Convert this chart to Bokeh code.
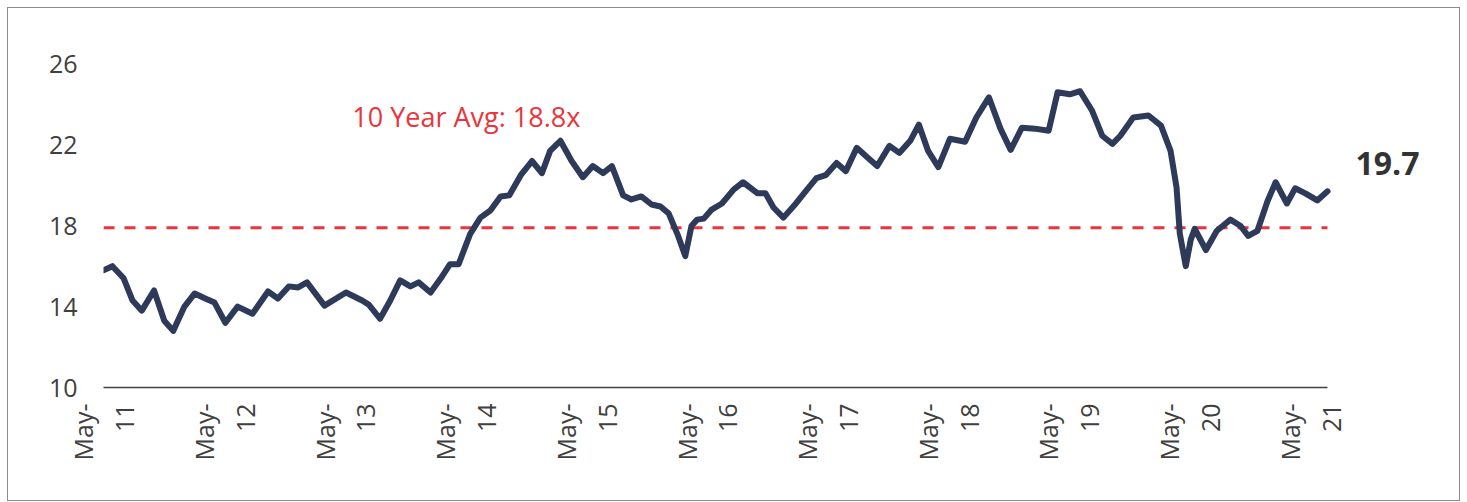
import math
import pandas as pd
from bokeh.plotting import figure
from bokeh.models import Range1d, FixedTicker, Label, ColumnDataSource
from bokeh.embed import file_html
from bokeh.resources import INLINE

# ---- data ----
dates = [
    "2011-05-01", "2011-05-28", "2011-07-01", "2011-07-28", "2011-08-25", "2011-10-01",
    "2011-11-01", "2011-11-28", "2012-01-01", "2012-02-01", "2012-03-04", "2012-04-01",
    "2012-05-04", "2012-06-10", "2012-07-25", "2012-09-10", "2012-10-10", "2012-11-12",
    "2012-12-10", "2013-01-06", "2013-02-28", "2013-05-04", "2013-06-22", "2013-07-12",
    "2013-08-15", "2013-09-15", "2013-10-15", "2013-11-15", "2013-12-10", "2014-01-15",
    "2014-02-15", "2014-03-15", "2014-04-10", "2014-05-15", "2014-06-15", "2014-07-15",
    "2014-08-15", "2014-09-10", "2014-10-15", "2014-11-18", "2014-12-18", "2015-01-12",
    "2015-02-12", "2015-03-18", "2015-04-21", "2015-05-21", "2015-06-21", "2015-07-18",
    "2015-08-21", "2015-09-15", "2015-10-15", "2015-11-15", "2015-12-12", "2016-01-06",
    "2016-02-01", "2016-02-25", "2016-03-15", "2016-04-01", "2016-04-21", "2016-05-15",
    "2016-06-15", "2016-07-21", "2016-08-18", "2016-10-01", "2016-10-25", "2016-11-18",
    "2016-12-18", "2017-01-25", "2017-02-28", "2017-03-28", "2017-04-25", "2017-05-28",
    "2017-06-25", "2017-07-28", "2017-08-28", "2017-09-28", "2017-11-04", "2017-12-04",
    "2018-01-06", "2018-02-01", "2018-03-01", "2018-04-01", "2018-05-06", "2018-06-21",
    "2018-07-25", "2018-09-01", "2018-10-06", "2018-11-06", "2018-12-10", "2019-01-18",
    "2019-03-01", "2019-03-28", "2019-05-04", "2019-06-04", "2019-07-10", "2019-08-10",
    "2019-09-10", "2019-10-04", "2019-11-12", "2019-12-28", "2020-02-04", "2020-03-04",
    "2020-03-22", "2020-04-01", "2020-04-19", "2020-05-04", "2020-05-16", "2020-06-19",
    "2020-07-22", "2020-09-01", "2020-10-01", "2020-10-25", "2020-11-22", "2020-12-22",
    "2021-01-16", "2021-02-19", "2021-03-16", "2021-04-16", "2021-05-22", "2021-06-22",
]
pe_ratio = [
    15.8, 16.0, 15.4, 14.3, 13.8, 14.8,
    13.3, 12.8, 14.0, 14.65, 14.4, 14.2,
    13.2, 14.0, 13.65, 14.75, 14.4, 15.0,
    14.95, 15.2, 14.05, 14.7, 14.3, 14.1,
    13.4, 14.3, 15.3, 15.0, 15.2, 14.7,
    15.4, 16.1, 16.1, 17.6, 18.4, 18.75,
    19.45, 19.5, 20.5, 21.2, 20.6, 21.7,
    22.2, 21.2, 20.4, 20.95, 20.6, 20.95,
    19.5, 19.3, 19.45, 19.05, 18.95, 18.6,
    17.6, 16.5, 18.0, 18.3, 18.35, 18.8,
    19.1, 19.8, 20.15, 19.6, 19.6, 18.9,
    18.4, 19.1, 19.8, 20.35, 20.5, 21.1,
    20.7, 21.85, 21.4, 20.95, 21.95, 21.6,
    22.2, 23.0, 21.7, 20.9, 22.3, 22.15,
    23.35, 24.35, 22.8, 21.75, 22.85, 22.8,
    22.7, 24.6, 24.5, 24.65, 23.7, 22.45,
    22.05, 22.45, 23.35, 23.45, 22.95, 21.7,
    19.9, 17.6, 16.0, 17.3, 17.85, 16.8,
    17.75, 18.3, 18.0, 17.5, 17.75, 19.2,
    20.15, 19.1, 19.85, 19.6, 19.25, 19.7,
]
avg_line = 17.9
avg_text = "10 Year Avg: 18.8x"
avg_label_date = "2013-05-23"
tick_dates = ["2011-05-01", "2012-05-01", "2013-05-01", "2014-05-01", "2015-05-01",
              "2016-05-01", "2017-05-01", "2018-05-01", "2019-05-01", "2020-05-01",
              "2021-05-01"]
tick_labels = ["May-\n11", "May-\n12", "May-\n13", "May-\n14", "May-\n15", "May-\n16",
               "May-\n17", "May-\n18", "May-\n19", "May-\n20", "May-\n21"]
y_ticks = [10, 14, 18, 22, 26]

FONT = "Open Sans"
TXT = "#404040"
RED = "#E9353B"


def ms(d):
    return int(pd.Timestamp(d).value // 10**6)


x_ms = [ms(d) for d in dates]
src = ColumnDataSource(dict(x=pd.to_datetime(dates), y=pe_ratio))

# data span occupies 1224 px; frame extends further right to host the end label
data_px = 1224
extra_px = 124
span_ms = x_ms[-1] - x_ms[0]
x_end = x_ms[-1] + span_ms * extra_px / data_px

p = figure(width=1453, height=494, x_axis_type="datetime",
           output_backend="svg", toolbar_location=None,
           x_range=Range1d(x_ms[0], x_end), y_range=Range1d(10, 28),
           min_border_left=95, min_border_right=10, min_border_top=15,
           min_border_bottom=115)
p.margin = (7, 0, 0, 7)
p.styles = {"border": "1.5px solid #8c8c8c"}
p.outline_line_color = None
p.background_fill_color = "white"
p.border_fill_color = "white"
p.xgrid.grid_line_color = None
p.ygrid.grid_line_color = None

# y axis
p.yaxis.ticker = FixedTicker(ticks=y_ticks)
p.yaxis.axis_line_color = None
p.yaxis.major_tick_line_color = None
p.yaxis.minor_tick_line_color = None
p.yaxis.major_tick_out = 0
p.yaxis.major_label_standoff = 26
p.yaxis.major_label_text_font = FONT
p.yaxis.major_label_text_font_size = "25px"
p.yaxis.major_label_text_color = TXT

# x axis
tks = [ms(d) for d in tick_dates]
p.xaxis.ticker = FixedTicker(ticks=tks)
p.xaxis.bounds = (x_ms[0], x_ms[-1])
p.xaxis.major_label_overrides = {t: l for t, l in zip(tks, tick_labels)}
p.xaxis.major_label_orientation = math.pi / 2
p.xaxis.axis_line_color = "#404040"
p.xaxis.axis_line_width = 1.5
p.xaxis.major_tick_line_color = None
p.xaxis.minor_tick_line_color = None
p.xaxis.major_tick_out = 0
p.xaxis.major_tick_in = 0
p.xaxis.major_label_standoff = 16
p.xaxis.major_label_text_font = FONT
p.xaxis.major_label_text_font_size = "25px"
p.xaxis.major_label_text_color = TXT

# average line
p.line(x=[x_ms[0], x_ms[-1]], y=[avg_line, avg_line], line_color=RED,
       line_width=3, line_dash="11 10")
p.add_layout(Label(x=ms(avg_label_date), y=avg_line, y_offset=111, text=avg_text,
                   text_font=FONT, text_font_size="27px", text_color=RED,
                   text_baseline="middle", text_align="left"))

# series
p.line("x", "y", source=src, line_color="#2E3A59", line_width=6,
       line_join="round", line_cap="round")

# last value label
p.add_layout(Label(x=x_ms[-1], y=pe_ratio[-1], x_offset=28, y_offset=28,
                   text=f"{pe_ratio[-1]:.1f}", text_font=FONT,
                   text_font_size="32px", text_font_style="bold",
                   text_color="#333333", text_baseline="middle"))

open("out.html", "w").write(file_html(p, INLINE))
